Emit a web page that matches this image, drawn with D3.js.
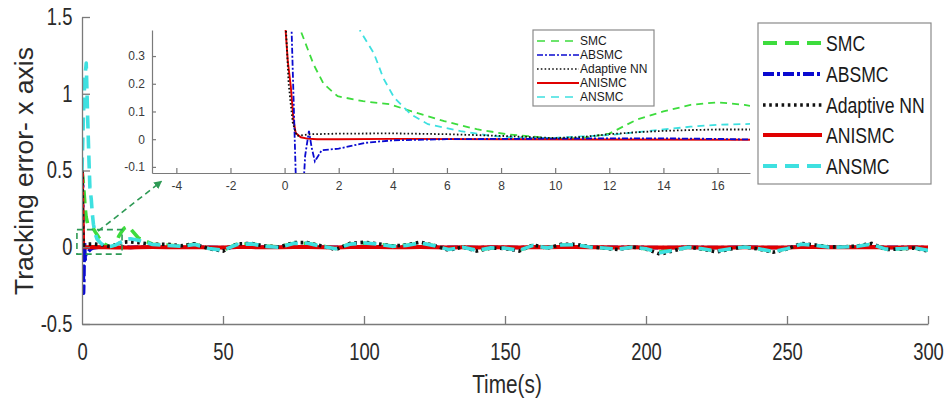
<!DOCTYPE html>
<html>
<head>
<meta charset="utf-8">
<script src="https://cdn.jsdelivr.net/npm/d3@7"></script>
<style>
  html, body { margin: 0; padding: 0; background: #fff; }
  svg { display: block; }
  .narrow { font-family: "Liberation Sans", Arial, sans-serif; }
  .reg { font-family: "Liberation Sans", Arial, sans-serif; }
</style>
</head>
<body>
<svg id="chart" width="948" height="407"></svg>
<script>
// ---------- DATA ----------
const seriesNames = ["SMC", "ABSMC", "Adaptive NN", "ANISMC", "ANSMC"];
const seriesColors = ["#3ddc3d", "#0a0ad0", "#111111", "#e00000", "#3ee0e0"];

// early transient (shown in inset and main plot)
const smcT = [0, 0.3, 0.6, 1.07, 1.44, 1.96, 2.9, 3.9, 4.7, 5.9, 7.1, 8.2, 9, 10, 11, 12, 13, 14, 15, 16, 17, 17.2];
const smcV = [0.5, 0.45, 0.39, 0.27, 0.2, 0.155, 0.137, 0.126, 0.1, 0.065, 0.036, 0.018, 0.011, 0.002, 0.004, 0.02, 0.07, 0.1, 0.124, 0.133, 0.124, 0.12];

const absmcT = [0, 0.15, 0.26, 0.41, 0.55, 0.68, 0.76, 0.9, 1.0, 1.12, 1.37, 2, 3, 4, 6, 8, 10, 12, 14, 16, 17.2];
const absmcV = [0.5, 0.45, 0.39, -0.12, -0.3, -0.2, -0.06, 0.03, -0.03, -0.08, -0.04, -0.034, -0.013, -0.004, 0, 0.001, 0.002, 0.003, 0.003, 0.001, -0.001];

const annT = [0, 0.15, 0.3, 0.45, 0.7, 1, 2, 4, 6, 8, 9, 10, 11, 12, 13, 14, 15, 16, 17.2];
const annV = [0.5, 0.2, 0.06, 0.012, 0.015, 0.018, 0.02, 0.021, 0.018, 0.012, 0.008, 0.004, 0.008, 0.018, 0.025, 0.03, 0.033, 0.035, 0.035];

const anismcT = [0, 0.04, 0.12, 0.23, 0.33, 0.41, 0.6, 0.84, 1.2, 2, 4, 8, 12, 17.2];
const anismcV = [0.5, 0.39, 0.28, 0.19, 0.07, 0.022, 0.007, 0.002, 0, 0, 0.001, 0, -0.001, -0.002];

const ansmcT = [0, 0.5, 1, 1.5, 2, 2.5, 2.8, 3.3, 3.65, 4.05, 4.66, 5.3, 6.5, 7.7, 9, 10, 11, 12, 13, 14, 15, 16, 17.2];
const ansmcV = [0.5, 0.85, 1.1, 1.2, 0.85, 0.55, 0.39, 0.31, 0.22, 0.15, 0.09, 0.054, 0.029, 0.011, 0.004, 0.005, 0.01, 0.015, 0.025, 0.035, 0.045, 0.052, 0.055];

// steady-state part (main plot only)
const tLate = [20, 25, 30, 35, 40, 45, 50, 55, 60, 65, 70, 75, 80, 85, 90, 95, 100, 105, 110, 115, 120, 125, 130, 135, 140, 145, 150, 155, 160, 165, 170, 175, 180, 185, 190, 195, 200, 205, 210, 215, 220, 225, 230, 235, 240, 245, 250, 255, 260, 265, 270, 275, 280, 285, 290, 295, 300];
const smcLate = [0.06, 0.02, 0.014, 0.008, 0.02, -0.006, -0.018, 0.02, 0.022, 0.008, 0.002, 0.024, 0.025, 0.008, -0.008, 0.02, 0.026, 0.02, 0.008, 0.012, 0.026, 0.01, -0.012, 0.002, -0.018, -0.004, -0.005, -0.018, 0.012, -0.003, 0.015, 0.015, 0.002, -0.004, -0.01, 0.001, -0.009, -0.03, -0.016, 0.001, -0.009, -0.022, -0.009, 0.002, -0.009, -0.025, -0.009, 0.018, 0.011, 0.001, 0.002, 0.006, 0.018, -0.01, -0.009, -0.004, -0.018];
const absmcLate = [0.002, 0.001, 0.001, 0, 0.001, -0.001, -0.002, 0.001, 0.002, 0.001, 0, 0.002, 0.002, 0.001, -0.001, 0.001, 0.002, 0.001, 0, 0.001, 0.002, 0.001, -0.001, 0, -0.002, 0, 0, -0.002, 0.001, 0, 0.001, 0.001, 0, 0, -0.001, 0, -0.001, -0.003, -0.002, 0, -0.001, -0.002, -0.001, 0, -0.001, -0.002, -0.001, 0.002, 0.001, 0, 0, 0, 0.002, -0.001, -0.001, 0, -0.002];
const annLate = [0.03, 0.02, 0.02, 0.01, 0.022, -0.01, -0.025, 0.022, 0.025, 0.008, 0.002, 0.03, 0.03, 0.008, -0.015, 0.025, 0.032, 0.022, 0.008, 0.015, 0.033, 0.012, -0.02, 0.002, -0.025, -0.005, -0.008, -0.025, 0.015, -0.006, 0.02, 0.02, 0.002, -0.006, -0.015, 0.002, -0.012, -0.045, -0.022, 0.002, -0.012, -0.03, -0.012, 0.003, -0.012, -0.032, -0.012, 0.025, 0.015, 0.002, 0.003, 0.008, 0.025, -0.015, -0.012, -0.005, -0.025];
const anismcLate = [0, 0.001, 0, 0, 0.001, -0.001, -0.001, 0.001, 0.001, 0, 0, 0.001, 0.001, 0, -0.001, 0.001, 0.001, 0.001, 0, 0, 0.001, 0, -0.001, 0, -0.001, 0, 0, -0.001, 0.001, 0, 0.001, 0.001, 0, 0, -0.001, 0, -0.001, -0.002, -0.001, 0, -0.001, -0.001, -0.001, 0, -0.001, -0.001, -0.001, 0.001, 0.001, 0, 0, 0, 0.001, -0.001, -0.001, 0, -0.001];
const ansmcLate = [0.045, 0.018, 0.012, 0.006, 0.018, -0.008, -0.02, 0.018, 0.022, 0.006, 0, 0.025, 0.026, 0.006, -0.01, 0.02, 0.028, 0.02, 0.006, 0.012, 0.028, 0.01, -0.015, 0, -0.02, -0.004, -0.006, -0.02, 0.012, -0.004, 0.015, 0.016, 0.001, -0.005, -0.012, 0, -0.01, -0.035, -0.018, 0, -0.01, -0.025, -0.01, 0.002, -0.01, -0.028, -0.01, 0.02, 0.012, 0, 0.002, 0.006, 0.02, -0.012, -0.01, -0.004, -0.02];

const mainXTicks = [0, 50, 100, 150, 200, 250, 300];
const mainYTicks = [-0.5, 0, 0.5, 1, 1.5];
const insetXTicks = [-4, -2, 0, 2, 4, 6, 8, 10, 12, 14, 16];
const insetYTicks = [-0.1, 0, 0.1, 0.2, 0.3];
const zoomBox = { t0: -1.8, t1: 14.2, v0: -0.045, v1: 0.115 };

// ---------- BUILD ----------
const NARROW = 0.8; // horizontal condensing for the narrow face
const fmt = d => String(d); // plain hyphen-minus like the original
const early = [[smcT, smcV], [absmcT, absmcV], [annT, annV], [anismcT, anismcV], [ansmcT, ansmcV]];
const late = [smcLate, absmcLate, annLate, anismcLate, ansmcLate];
const series = seriesNames.map((name, i) => {
  const e = early[i][0].map((t, j) => [t, early[i][1][j]]);
  const l = tLate.map((t, j) => [t, late[i][j]]);
  return { name, color: seriesColors[i], early: e, all: e.concat(l) };
});

const mainDash = ["13,7", "11,3,3,3", "2.6,3.6", null, "13,7"];
const insetDash = ["7,5", "6,2,2,2", "1.6,2.2", null, "7,5"];

const svg = d3.select("#chart");
const defs = svg.append("defs");
const axisColor = "#7a7a7a";
const textColor = "#2a2a2a";

// main scales
const x = d3.scaleLinear().domain([0, 300]).range([82, 928]);
const y = d3.scaleLinear().domain([-0.5, 1.5]).range([324, 17]);

defs.append("clipPath").attr("id", "mainClip")
  .append("rect").attr("x", 82).attr("y", 10).attr("width", 846).attr("height", 314);

const mainLine = d3.line().x(d => x(d[0])).y(d => y(d[1]));
const mainOrder = [1, 0, 3, 2, 4];
const gMain = svg.append("g").attr("clip-path", "url(#mainClip)");
mainOrder.forEach(i => {
  const s = series[i];
  gMain.append("path").datum(s.all)
    .attr("d", mainLine)
    .attr("fill", "none")
    .attr("stroke", s.color)
    .attr("stroke-width", i === 3 ? 4 : 3.6)
    .attr("stroke-dasharray", mainDash[i])
    .attr("stroke-linejoin", "round");
});

// main axes
const yAxis = d3.axisLeft(y).tickValues(mainYTicks).tickSizeInner(-8).tickSizeOuter(0).tickPadding(12)
  .tickFormat(fmt);
const xAxis = d3.axisBottom(x).tickValues(mainXTicks).tickSizeInner(-8).tickSizeOuter(0).tickPadding(20)
  .tickFormat(fmt);
const gy = svg.append("g").attr("transform", "translate(82,0)").call(yAxis);
const gx = svg.append("g").attr("transform", "translate(0,324)").call(xAxis);
[gx, gy].forEach(g => {
  g.select(".domain").attr("stroke", axisColor).attr("stroke-width", 1.3);
  g.selectAll(".tick line").attr("stroke", axisColor).attr("stroke-width", 1.3);
  g.selectAll("text").attr("class", "narrow").attr("font-size", 23).attr("fill", textColor)
    .attr("transform", `scale(${NARROW},1)`);
});
gx.selectAll(".tick").filter(d => d === 0).select("line").remove();

svg.append("text").attr("class", "narrow")
  .attr("transform", `translate(507,393) scale(${NARROW},1)`).attr("text-anchor", "middle")
  .attr("font-size", 26).attr("fill", textColor).text("Time(s)");
svg.append("text").attr("class", "reg")
  .attr("transform", "translate(33,171) rotate(-90)")
  .attr("text-anchor", "middle").attr("font-size", 26.5).attr("fill", textColor)
  .text("Tracking error- x axis");

// zoom box and arrow
const zc = "#2e9a55";
svg.append("rect")
  .attr("x", x(zoomBox.t0)).attr("y", y(zoomBox.v1))
  .attr("width", x(zoomBox.t1) - x(zoomBox.t0)).attr("height", y(zoomBox.v0) - y(zoomBox.v1))
  .attr("fill", "none").attr("stroke", zc).attr("stroke-width", 1.6).attr("stroke-dasharray", "6,4");

// inset scales
const xi = d3.scaleLinear().domain([-4.9, 17.2]).range([152, 750]);
const yi = d3.scaleLinear().domain([-0.122, 0.394]).range([173, 30]);

defs.append("marker").attr("id", "arrowHead")
  .attr("viewBox", "0 0 10 10").attr("refX", 9).attr("refY", 5)
  .attr("markerWidth", 5).attr("markerHeight", 5).attr("orient", "auto")
  .append("path").attr("d", "M0,0 L10,5 L0,10 z").attr("fill", zc);

svg.append("line")
  .attr("x1", x(5.7)).attr("y1", y(0.105))
  .attr("x2", xi(-4.55)).attr("y2", yi(-0.152))
  .attr("stroke", zc).attr("stroke-width", 1.6).attr("stroke-dasharray", "6,4")
  .attr("marker-end", "url(#arrowHead)");

// inset
const gIn = svg.append("g");
gIn.append("rect").attr("x", 152).attr("y", 30).attr("width", 598).attr("height", 143).attr("fill", "#fff");
defs.append("clipPath").attr("id", "insetClip")
  .append("rect").attr("x", 152).attr("y", 30).attr("width", 598).attr("height", 143);
const insetLine = d3.line().x(d => xi(d[0])).y(d => yi(d[1]));
const gInLines = gIn.append("g").attr("clip-path", "url(#insetClip)");
[0, 4, 3, 1, 2].forEach(i => {
  const s = series[i];
  gInLines.append("path").datum(s.early)
    .attr("d", insetLine)
    .attr("fill", "none")
    .attr("stroke", s.color)
    .attr("stroke-width", i === 3 ? 1.9 : 1.8)
    .attr("stroke-dasharray", insetDash[i]);
});
const yiAxis = d3.axisLeft(yi).tickValues(insetYTicks).tickSizeInner(-4).tickSizeOuter(0).tickPadding(7)
  .tickFormat(fmt);
const xiAxis = d3.axisBottom(xi).tickValues(insetXTicks).tickSizeInner(-5).tickSizeOuter(0).tickPadding(8)
  .tickFormat(fmt);
const giy = gIn.append("g").attr("transform", "translate(152,0)").call(yiAxis);
const gix = gIn.append("g").attr("transform", "translate(0,173)").call(xiAxis);
[gix, giy].forEach(g => {
  g.select(".domain").attr("stroke", axisColor).attr("stroke-width", 1.2);
  g.selectAll(".tick line").attr("stroke", axisColor).attr("stroke-width", 1.2);
  g.selectAll("text").attr("class", "reg").attr("font-size", 12).attr("fill", "#3a3a3a");
});

// legends
function legend(g, box, rows, sample, textX, fontSize, sx, widths, dashes) {
  g.append("rect").attr("x", box[0]).attr("y", box[1]).attr("width", box[2]).attr("height", box[3])
    .attr("fill", "#fff").attr("stroke", "#8a8a8a").attr("stroke-width", 1.2);
  series.forEach((s, i) => {
    g.append("line").attr("x1", sample[0]).attr("x2", sample[1])
      .attr("y1", rows[i]).attr("y2", rows[i])
      .attr("stroke", s.color).attr("stroke-width", widths[i]).attr("stroke-dasharray", dashes[i]);
    g.append("text").attr("class", "reg")
      .attr("transform", `translate(${textX},${rows[i]}) scale(${sx},1)`)
      .attr("dy", "0.36em").attr("font-size", fontSize).attr("fill", "#1a1a1a").text(s.name);
  });
}
legend(svg.append("g"), [758, 23, 173, 161], [43, 74, 105, 135, 166], [763, 822], 826, 22, NARROW,
  [4, 4, 3.6, 4, 4], ["14,8", "11,3,3,3", "2.6,3.6", null, "14,8"]);
legend(svg.append("g"), [533, 30, 121, 76], [41, 55, 69, 83, 97], [537, 579], 580, 12, 1,
  [1.7, 1.7, 1.7, 1.8, 1.7], ["8,6", "6,2,2,2", "1.6,2.2", null, "8,6"]);
</script>
</body>
</html>
